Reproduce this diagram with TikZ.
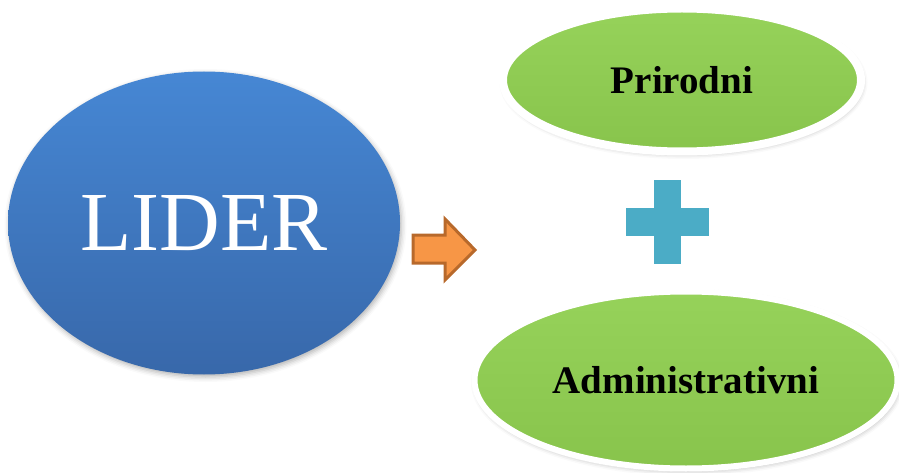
\documentclass[tikz,border=0pt]{standalone}
\usepackage{fontspec}
\setmainfont{Liberation Serif}
\usetikzlibrary{shapes.geometric,shadows.blur}
\definecolor{liderblue}{HTML}{4687D4}
\definecolor{liderbluedark}{HTML}{3868AA}
\definecolor{ovalgreen}{HTML}{88C44C}
\definecolor{ovalgreenlight}{HTML}{96D25A}
\definecolor{arroworange}{HTML}{F79646}
\definecolor{arrowedge}{HTML}{B8692B}
\definecolor{plusaqua}{HTML}{4BACC6}

\begin{document}
\begin{tikzpicture}[x=1pt,y=-1pt]
  \tikzstyle{every node}=[inner sep=2pt]
  \tikzstyle{softshadow}=[blur shadow={shadow xshift=1.5pt, shadow yshift=-2.5pt, shadow opacity=30, shadow blur radius=5pt}]
  \tikzstyle{bluenode}=[ellipse, top color=liderblue, bottom color=liderbluedark, text=white, font=\fontsize{84}{90}\selectfont, softshadow]
  \tikzstyle{greenoval}=[ellipse, draw=white, top color=ovalgreenlight, bottom color=ovalgreen, font=\bfseries\fontsize{39}{44}\selectfont, softshadow]
 \useasboundingbox (0,0) rectangle (899,473);

 \node[bluenode, minimum width=392pt, minimum height=303pt] (lider) at (204,223) {LIDER};
 \node[greenoval, line width=8pt, minimum width=358pt, minimum height=143pt] (prirodni) at (682,80) {Prirodni};
 \node[greenoval, line width=6pt, minimum width=423pt, minimum height=177pt] (admin) at (686,380) {Administrativni};

 % block arrow
 \draw[fill=arroworange, draw=arrowedge, line width=3pt, line join=miter]
   (413,235) -- (445,235) -- (445,219) -- (475,250) -- (445,280) -- (445,263) -- (413,263) -- cycle;

 % plus sign
 \fill[plusaqua] (654,180) rectangle (681,264);
 \fill[plusaqua] (626,208) rectangle (709,236);

\end{tikzpicture}
\end{document}
